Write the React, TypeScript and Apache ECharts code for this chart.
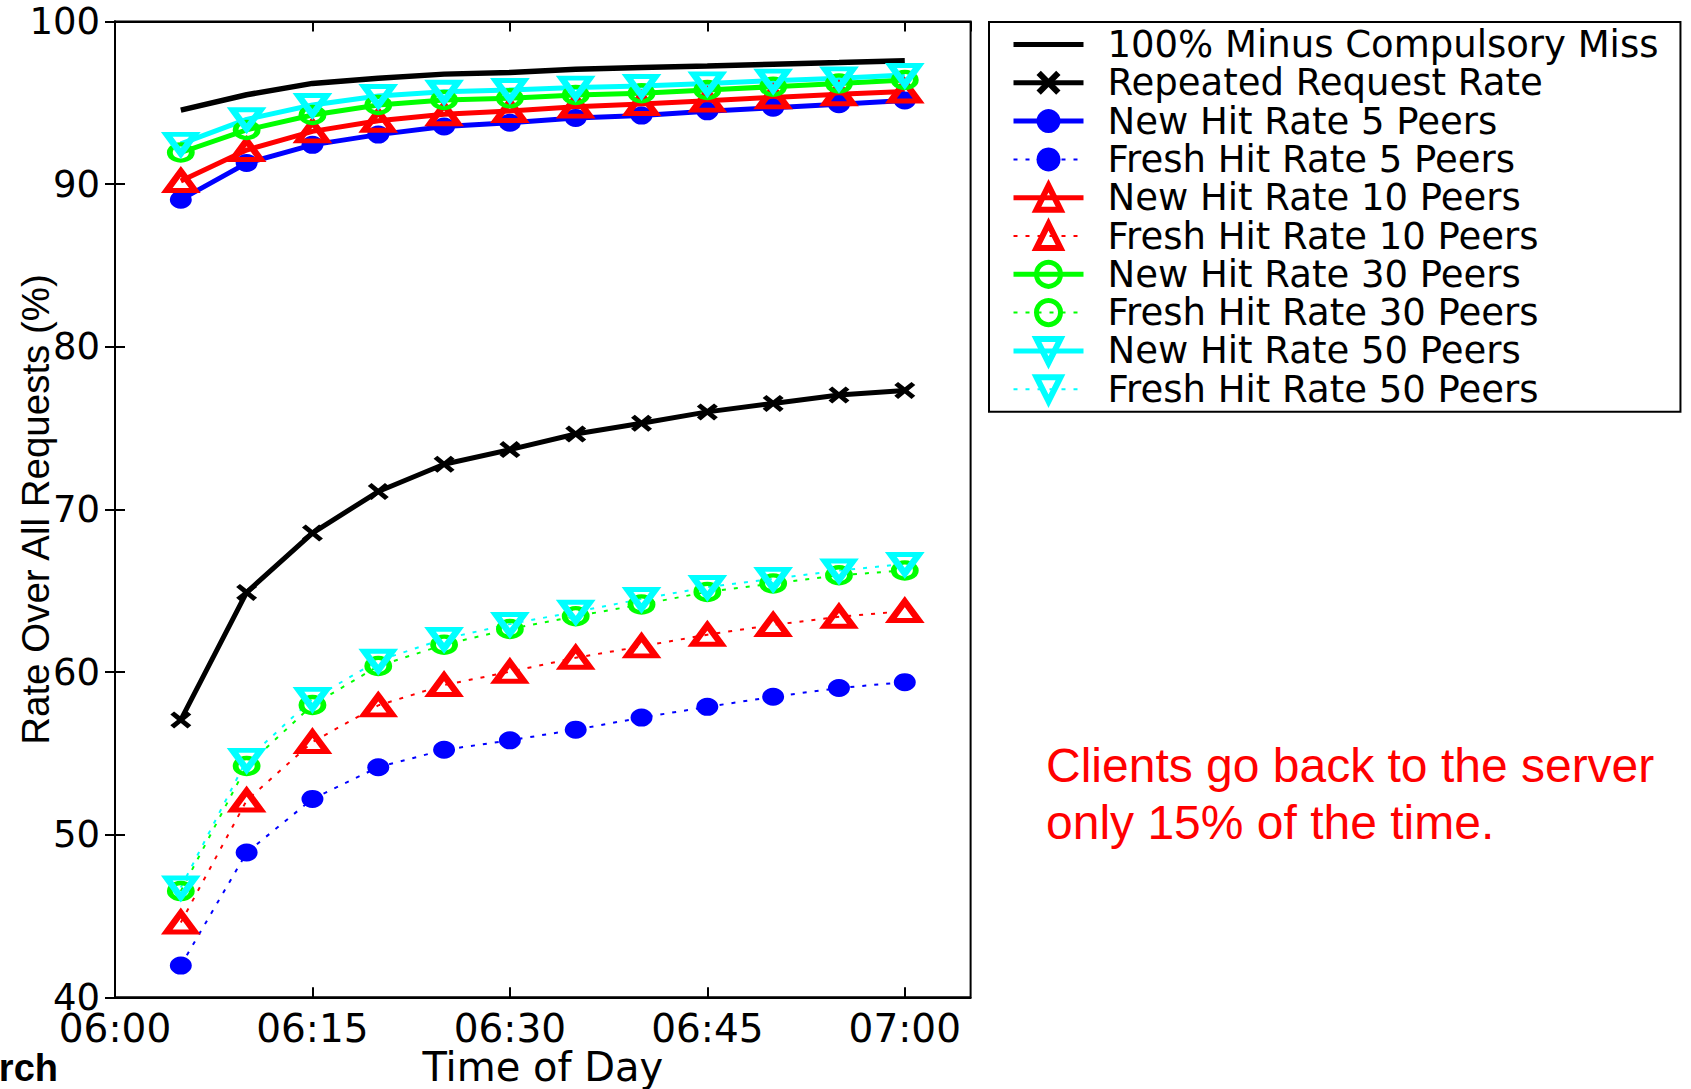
import React, { useEffect, useRef } from "react";
import * as echarts from "echarts";

const TIMES = ["06:05", "06:10", "06:15", "06:20", "06:25", "06:30", "06:35", "06:40", "06:45", "06:50", "06:55", "07:00"];
const X_TICK_LABELS = ["06:00", "06:15", "06:30", "06:45", "07:00"];
const Y_TICKS = [40, 50, 60, 70, 80, 90, 100];

const compulsory = [94.56, 95.5, 96.2, 96.52, 96.77, 96.87, 97.07, 97.18, 97.27, 97.38, 97.48, 97.6];
const repeated = [57.06, 64.9, 68.55, 71.1, 72.78, 73.68, 74.64, 75.3, 76.0, 76.52, 77.04, 77.32];
const new5 = [89.05, 91.3, 92.42, 93.05, 93.55, 93.78, 94.07, 94.22, 94.48, 94.7, 94.92, 95.15];
const fresh5 = [41.95, 48.9, 52.2, 54.15, 55.22, 55.8, 56.46, 57.2, 57.86, 58.48, 59.02, 59.38];
const new10 = [90.2, 92.1, 93.25, 93.9, 94.3, 94.5, 94.77, 94.93, 95.14, 95.34, 95.53, 95.7];
const fresh10 = [44.6, 52.1, 55.7, 57.95, 59.2, 60.02, 60.88, 61.58, 62.3, 62.9, 63.4, 63.75];
const new30 = [91.95, 93.34, 94.26, 94.87, 95.18, 95.28, 95.49, 95.59, 95.79, 96.0, 96.2, 96.41];
const fresh30 = [46.53, 54.22, 57.97, 60.37, 61.68, 62.65, 63.43, 64.16, 64.93, 65.45, 65.95, 66.25];
const new50 = [92.48, 93.99, 94.87, 95.43, 95.69, 95.79, 95.94, 96.04, 96.2, 96.37, 96.51, 96.72];
const fresh50 = [46.75, 54.6, 58.35, 60.7, 62.04, 62.95, 63.71, 64.49, 65.23, 65.73, 66.24, 66.65];

const SERIES_NAMES = [
  "100% Minus Compulsory Miss",
  "Repeated Request Rate",
  "New Hit Rate 5 Peers",
  "Fresh Hit Rate 5 Peers",
  "New Hit Rate 10 Peers",
  "Fresh Hit Rate 10 Peers",
  "New Hit Rate 30 Peers",
  "Fresh Hit Rate 30 Peers",
  "New Hit Rate 50 Peers",
  "Fresh Hit Rate 50 Peers",
];

const NOTE_LINES = ["Clients go back to the server", "only 15% of the time."];

const toMinutes = (t: string) => {
  const [h, m] = t.split(":").map(Number);
  return (h - 6) * 60 + m;
};

const FONT = "DejaVu Sans";
const X_SYMBOL = "path://M0,1.8L1.8,0L5,3.2L8.2,0L10,1.8L6.8,5L10,8.2L8.2,10L5,6.8L1.8,10L0,8.2L3.2,5Z";

export default function App() {
  const ref = useRef<HTMLDivElement>(null);

  useEffect(() => {
    if (!ref.current) return;
    const chart = echarts.init(ref.current, null, { renderer: "svg" });
    const pairs = (vals: number[]) => TIMES.map((t, i) => [toMinutes(t), vals[i]]);

    const solid = (color: string) => ({ type: "solid", width: 5, color });
    const dotted = (color: string) => ({ type: [4, 8], width: 2, color });

    const mk = (name: string, vals: number[], lineStyle: any, symbol: any, symbolSize: any, itemStyle: any, extra: any = {}) => ({
      type: "line",
      name,
      data: pairs(vals),
      lineStyle,
      symbol,
      symbolSize,
      itemStyle,
      showSymbol: symbol !== "none",
      emphasis: { disabled: true },
      ...extra,
    });

    const hollow = (color: string, w: number) => ({ color: "rgba(255,255,255,0)", borderColor: color, borderWidth: w });

    const series = [
      mk(SERIES_NAMES[0], compulsory, { ...solid("#000"), width: 5.5 }, "none", 0, { color: "#000" }),
      mk(SERIES_NAMES[1], repeated, solid("#000"), X_SYMBOL, [21, 17], { color: "#000" }),
      mk(SERIES_NAMES[2], new5, solid("#0000ff"), "circle", [22, 18], { color: "#0000ff" }),
      mk(SERIES_NAMES[3], fresh5, dotted("#0000ff"), "circle", [22, 18], { color: "#0000ff" }),
      mk(SERIES_NAMES[4], new10, solid("#ff0000"), "triangle", [28, 19], hollow("#ff0000", 6)),
      mk(SERIES_NAMES[5], fresh10, dotted("#ff0000"), "triangle", [28, 19], hollow("#ff0000", 6)),
      mk(SERIES_NAMES[6], new30, solid("#00ff00"), "circle", [22, 16], hollow("#00ff00", 5)),
      mk(SERIES_NAMES[7], fresh30, dotted("#00ff00"), "circle", [22, 16], hollow("#00ff00", 5)),
      mk(SERIES_NAMES[8], new50, solid("#00ffff"), "triangle", [28, 19], hollow("#00ffff", 6), { symbolRotate: 180 }),
      mk(SERIES_NAMES[9], fresh50, dotted("#00ffff"), "triangle", [28, 19], hollow("#00ffff", 6), { symbolRotate: 180 }),
    ];

    const xLabel = (v: number) => (v % 15 === 0 && v / 15 < X_TICK_LABELS.length ? X_TICK_LABELS[v / 15] : "");

    const option: any = {
      animation: false,
      backgroundColor: "#fff",
      textStyle: { fontFamily: FONT },
      grid: {
        left: 115,
        top: 21.6,
        right: 720.4,
        bottom: 91.7,
        containLabel: false,
        outerBoundsMode: "none",
        show: true,
        borderColor: "#000",
        borderWidth: 2,
        backgroundColor: "transparent",
      },
      xAxis: [
        {
          type: "value",
          min: 0,
          max: 65,
          interval: 15,
          name: "Time of Day",
          nameLocation: "middle",
          nameGap: 50,
          nameMoveOverlap: false,
          nameTextStyle: { fontFamily: FONT, fontSize: 40, color: "#000" },
          axisLine: { show: true, lineStyle: { color: "#000", width: 2 } },
          axisTick: { show: true, inside: true, length: 10, lineStyle: { color: "#000", width: 2 } },
          axisLabel: { fontFamily: FONT, fontSize: 39, color: "#000", margin: 12, formatter: xLabel, showMaxLabel: false, hideOverlap: false },
          splitLine: { show: false },
        },
        {
          type: "value",
          position: "top",
          min: 0,
          max: 65,
          interval: 15,
          axisLine: { show: true, lineStyle: { color: "#000", width: 2 } },
          axisTick: { show: true, inside: true, length: 10, lineStyle: { color: "#000", width: 2 } },
          axisLabel: { show: false },
          splitLine: { show: false },
        },
      ],
      yAxis: [
        {
          type: "value",
          min: Y_TICKS[0],
          max: Y_TICKS[Y_TICKS.length - 1],
          interval: Y_TICKS[1] - Y_TICKS[0],
          name: "Rate Over All Requests (%)",
          nameLocation: "middle",
          nameGap: 60,
          nameMoveOverlap: false,
          nameRotate: 90,
          nameTextStyle: { fontFamily: "Liberation Sans", fontSize: 38.5, color: "#000" },
          axisLine: { show: true, lineStyle: { color: "#000", width: 2 } },
          axisTick: { show: true, inside: true, length: 10, lineStyle: { color: "#000", width: 2 } },
          axisLabel: { fontFamily: FONT, fontSize: 37, color: "#000", margin: 15 },
          splitLine: { show: false },
        },
        {
          type: "value",
          position: "right",
          min: Y_TICKS[0],
          max: Y_TICKS[Y_TICKS.length - 1],
          interval: Y_TICKS[1] - Y_TICKS[0],
          axisLine: { show: true, lineStyle: { color: "#000", width: 2 } },
          axisTick: { show: true, inside: true, length: 10, lineStyle: { color: "#000", width: 2 } },
          axisLabel: { show: false },
          splitLine: { show: false },
        },
      ],
      legend: {
        orient: "vertical",
        left: 989,
        top: 22,
        itemWidth: 70,
        itemHeight: 30,
        itemGap: 1.3,
        padding: [4, 22, 4, 22],
        borderColor: "#000",
        borderWidth: 2,
        backgroundColor: "#fff",
        selectedMode: false,
        lineStyle: { width: "inherit" },
        itemStyle: { borderWidth: "inherit" },
        textStyle: { fontFamily: FONT, fontSize: 37, color: "#000", padding: [0, 0, 0, 19] },
        data: SERIES_NAMES.map((n, i) =>
          i === 0 ? { name: n, icon: "path://M0,0H70V5H0Z" } : { name: n }
        ),
      },
      graphic: [
        {
          type: "text",
          left: 1046,
          top: 737,
          style: {
            text: NOTE_LINES.join("\n"),
            fill: "#ff0000",
            font: '48px "Liberation Sans"',
            lineHeight: 57,
          },
        },
        {
          type: "text",
          x: 58,
          y: 1068,
          style: {
            text: "rch",
            fill: "#000",
            font: 'bold 38px "Liberation Sans"',
            align: "right",
            verticalAlign: "middle",
          },
        },
      ],
      series,
    };

    chart.setOption(option);
    return () => chart.dispose();
  }, []);

  return (
    <div
      ref={ref}
      style={{ position: "fixed", left: 0, top: 0, width: 1691, height: 1089, background: "#fff" }}
    />
  );
}
